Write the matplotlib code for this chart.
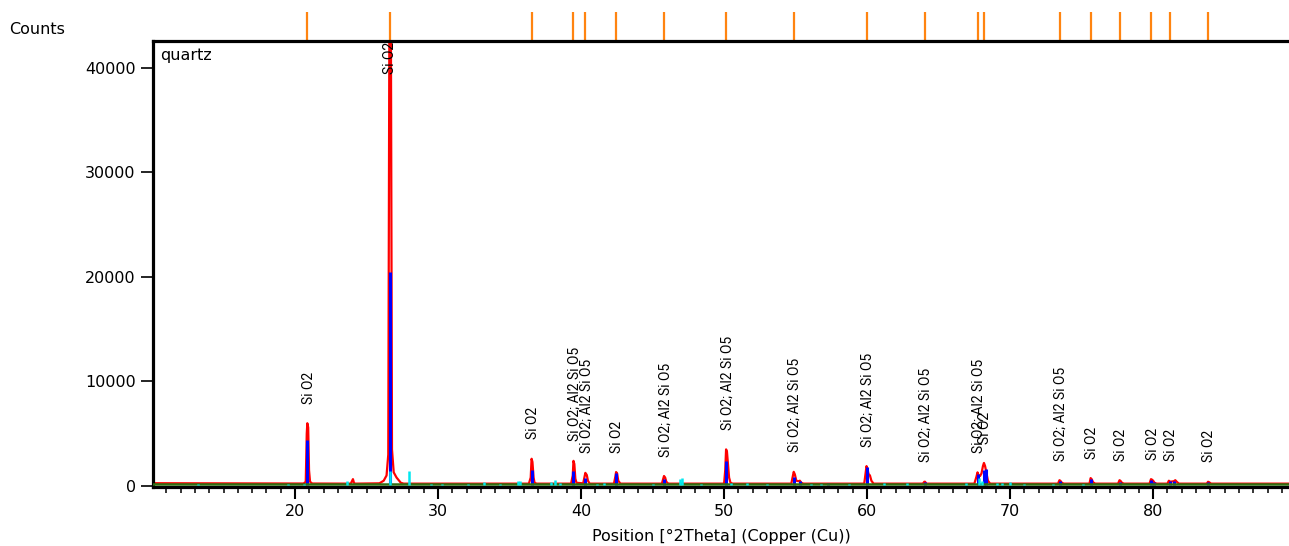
import matplotlib
matplotlib.use("Agg")
import matplotlib.pyplot as plt
import matplotlib.transforms as mtransforms
from matplotlib.ticker import MultipleLocator

# ---------------- data ----------------
# observed profile (red), points read from the picture
obs_x = [10.0, 20.6, 20.75, 20.82, 20.86, 20.92, 20.98, 21.05, 21.2,
         23.9, 24.0, 24.05, 24.12, 24.2,
         25.9, 26.2, 26.4, 26.52, 26.6, 26.7, 26.78, 26.9, 27.1, 27.4, 27.6,
         36.35, 36.48, 36.54, 36.6, 36.68, 36.75, 36.9,
         39.3, 39.42, 39.47, 39.53, 39.6, 39.68, 40.15, 40.25, 40.3, 40.4, 40.48, 40.6,
         42.3, 42.4, 42.45, 42.52, 42.6, 42.75,
         45.65, 45.75, 45.8, 45.88, 45.96, 46.1,
         50.0, 50.08, 50.14, 50.2, 50.28, 50.35, 50.45, 50.6,
         54.7, 54.8, 54.87, 54.95, 55.05, 55.2, 55.3, 55.4, 55.55,
         59.8, 59.9, 59.96, 60.03, 60.1, 60.2, 60.3, 60.45,
         63.9, 64.0, 64.05, 64.15,
         67.5, 67.65, 67.72, 67.8, 67.9, 68.0, 68.1, 68.17, 68.25, 68.35, 68.45, 68.6,
         73.35, 73.45, 73.52, 73.62, 73.75,
         75.55, 75.63, 75.7, 75.8, 75.95,
         77.55, 77.65, 77.72, 77.82, 77.95,
         79.75, 79.85, 79.92, 80.0, 80.1, 80.25,
         81.0, 81.1, 81.2, 81.45, 81.55, 81.65, 81.8,
         83.75, 83.84, 83.92, 84.05,
         89.5]
obs_y = [260, 230, 400, 5000, 6000, 5600, 1500, 400, 230,
         220, 500, 650, 300, 220,
         250, 500, 1000, 3000, 46000, 46000, 3500, 1300, 800, 300, 220,
         220, 800, 2600, 2300, 800, 300, 220,
         220, 1000, 2400, 2100, 700, 300, 250, 900, 1250, 1050, 500, 220,
         220, 900, 1330, 1200, 500, 220,
         220, 700, 950, 800, 400, 220,
         220, 1500, 3500, 3300, 2000, 800, 300, 220,
         220, 900, 1350, 1100, 500, 450, 500, 300, 220,
         220, 1300, 1900, 1600, 1150, 1000, 500, 220,
         220, 400, 400, 220,
         220, 900, 1300, 1000, 950, 1200, 1900, 2200, 1900, 1200, 500, 220,
         220, 550, 480, 300, 220,
         220, 750, 650, 350, 220,
         220, 550, 480, 300, 220,
         220, 650, 600, 500, 300, 220,
         220, 500, 400, 450, 550, 400, 220,
         220, 400, 350, 220,
         220]

# calculated peaks (blue)
calc_x = [20.86, 26.64, 36.54, 39.47, 40.29, 42.45, 45.79, 50.14, 54.87, 55.32,
          57.25, 59.96, 64.03, 67.74, 68.14, 68.30, 73.47, 75.66, 77.68, 79.88,
          80.05, 81.18, 81.49, 83.84]
calc_y = [4400, 20500, 1550, 1450, 750, 1250, 650, 2400, 850, 450,
          250, 1800, 350, 1150, 1500, 1600, 450, 650, 350, 600,
          350, 500, 500, 400]

# difference spikes (cyan)
diff_x = [13.2, 15.0, 16.3, 18.8, 19.5, 20.0, 20.6, 23.6, 26.62, 28.0, 29.5, 30.3,
          32.1, 33.2, 34.3, 35.6, 35.7, 37.9, 38.2, 38.5, 41.1, 41.6, 45.0, 46.95,
          47.05, 48.4, 50.5, 51.6, 53.0, 56.1, 56.8, 58.7, 61.2, 62.8, 66.9, 67.8,
          68.0, 69.1, 69.4, 70.0, 71.0, 73.0, 75.1]
diff_y = [150, 130, 120, 130, 150, 120, 200, 450, 1400, 1450, 180, 200,
          150, 400, 200, 450, 500, 350, 550, 300, 200, 250, 200, 700,
          750, 200, 250, 300, 150, 200, 150, 200, 250, 250, 300, 800,
          500, 250, 300, 350, 150, 150, 150]

background_level = 170

# reference pattern (quartz) line positions and peak labels
ref_pos = [20.86, 26.64, 36.54, 39.47, 40.29, 42.45, 45.79, 50.14, 54.87, 59.96,
           64.03, 67.74, 68.14, 73.47, 75.66, 77.68, 79.88, 81.18, 83.84]
ref_labels = ["Si O2", "Si O2", "Si O2", "Si O2; Al2 Si O5", "Si O2; Al2 Si O5",
              "Si O2", "Si O2; Al2 Si O5", "Si O2; Al2 Si O5", "Si O2; Al2 Si O5",
              "Si O2; Al2 Si O5", "Si O2; Al2 Si O5", "Si O2; Al2 Si O5", "Si O2",
              "Si O2; Al2 Si O5", "Si O2", "Si O2", "Si O2", "Si O2", "Si O2"]
ref_obs_height = [6000, 46000, 2600, 2400, 1250, 1330, 950, 3500, 1350, 1900,
                  400, 1300, 2200, 550, 750, 550, 650, 550, 400]

y_ticks = [0, 10000, 20000, 30000, 40000]
x_ticks = [20, 30, 40, 50, 60, 70, 80]

# ---------------- figure ----------------
plt.rcParams['font.family'] = ['DejaVu Sans']
fig = plt.figure(figsize=(12.89, 5.46), dpi=100)
ax = fig.add_axes([0.1187, 0.1081, 1.0 - 0.1187, 0.9249 - 0.1081])

YTOP = 42584
ax.set_xlim(10.07, 89.5)
ax.set_ylim(-100, YTOP)

ax.plot(obs_x, obs_y, color='#ff0000', lw=1.6, zorder=2)
ax.vlines(calc_x, 100, calc_y, color='#0000ff', lw=2.2, zorder=3)
ax.axhline(background_level, color='#2f6f12', lw=1.8, zorder=4)
ax.vlines(diff_x, 100, diff_y, color='#00e8f0', lw=1.8, zorder=5)

# reference sticks above the plot
trans = mtransforms.blended_transform_factory(ax.transData, ax.transAxes)
ax.vlines(ref_pos, 1.0, 1.065, transform=trans, color='#ff8410', lw=1.6,
          clip_on=False, zorder=1)

# peak labels
label_font = ['Roboto', 'DejaVu Sans']
for x, lab, h in zip(ref_pos, ref_labels, ref_obs_height):
    if h > YTOP * 0.9:
        ax.text(x, 0.998, lab, transform=trans, rotation=90, ha='center', va='top',
                fontsize=10, family=label_font, zorder=6)
    else:
        ax.annotate(lab, xy=(x, h), xytext=(1, 14), textcoords='offset points',
                    rotation=90, ha='center', va='bottom', fontsize=10,
                    family=label_font, zorder=6)

# spines
for s in ['left', 'top', 'bottom']:
    ax.spines[s].set_linewidth(2.3)
    ax.spines[s].set_color('black')
ax.spines['right'].set_visible(False)

ax.set_xticks(x_ticks)
ax.xaxis.set_minor_locator(MultipleLocator(1))
ax.set_yticks(y_ticks)
ax.set_yticklabels([str(v) for v in y_ticks])
ax.tick_params(axis='x', which='major', length=8.5, width=1.5, labelsize=11.5, pad=4)
ax.tick_params(axis='x', which='minor', length=4.3, width=1.1)
ax.tick_params(axis='y', which='major', length=8.5, width=1.2, labelsize=11.5, pad=4)

ax.set_xlabel("Position [°2Theta] (Copper (Cu))", fontsize=11.5, labelpad=7)
fig.text(9 / 1289, 1 - 30 / 546, "Counts", fontsize=11.5, va='center', ha='left')
ax.text(0.006, 0.985, "quartz", transform=ax.transAxes, fontsize=11.5,
        ha='left', va='top')

fig.savefig("out.png", dpi=100)
